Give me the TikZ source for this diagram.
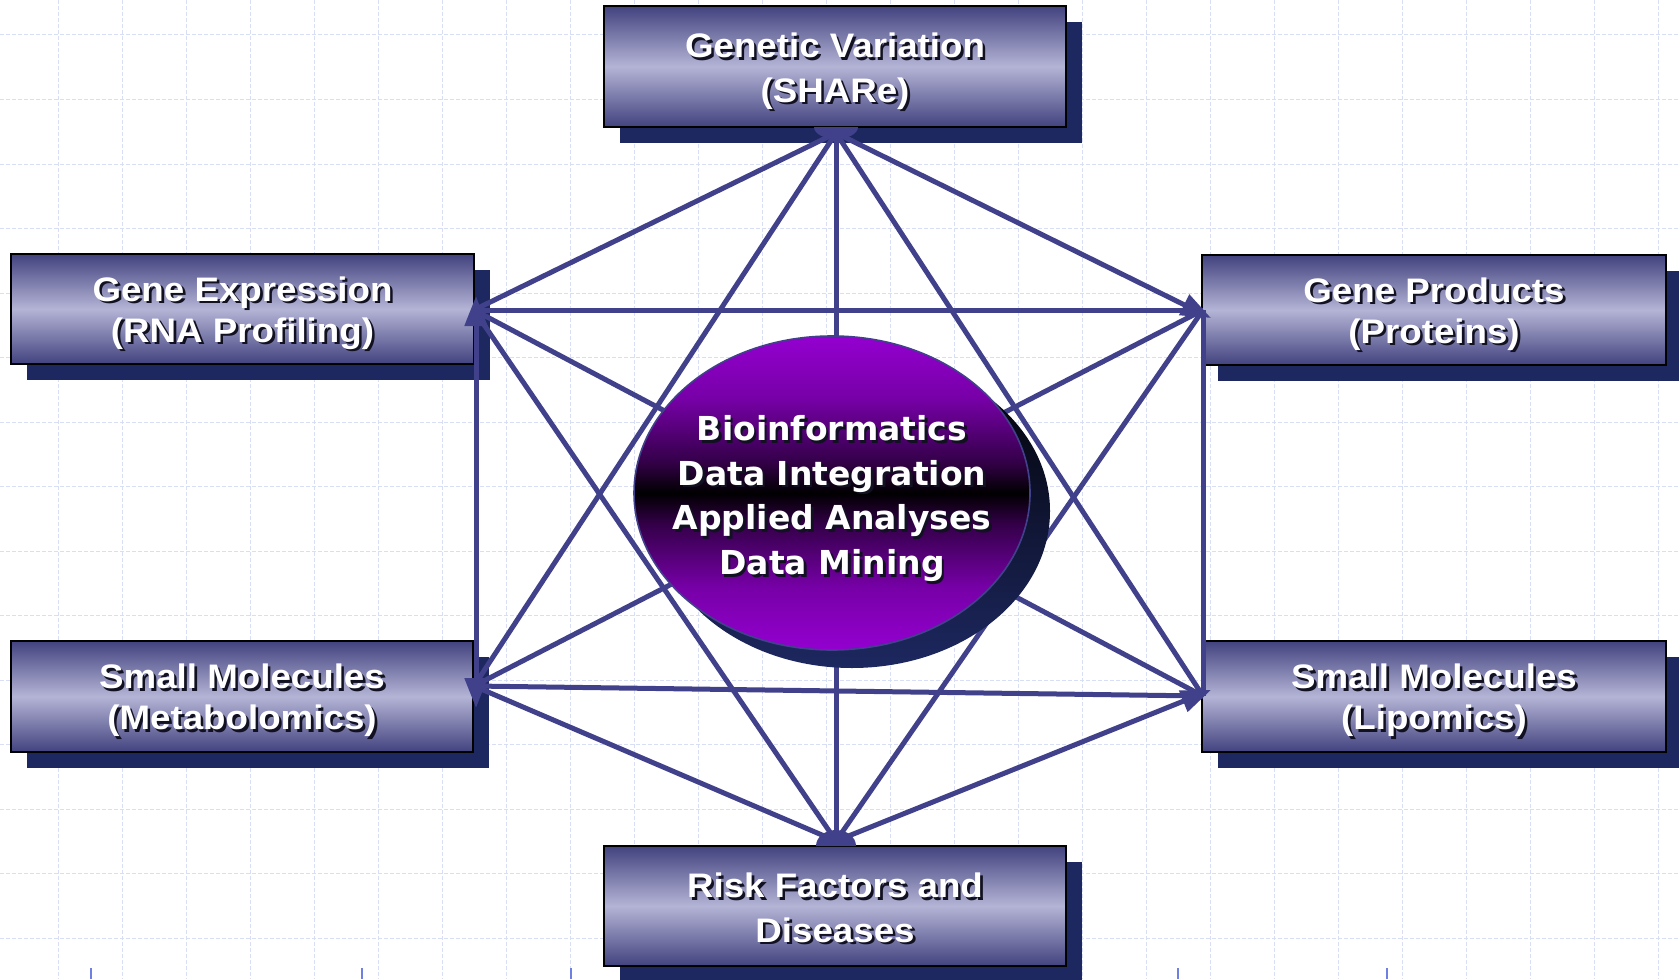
\documentclass[tikz,border=0pt]{standalone}
\usepackage{fontspec}
\setmainfont{Liberation Sans}
\newfontfamily\boxfont[FakeStretch=1.08]{Liberation Sans}
\newfontfamily\ellfont{DejaVu Sans}
\usetikzlibrary{arrows.meta,shapes.geometric}
\definecolor{linec}{HTML}{40418A}
\definecolor{shadowc}{HTML}{1D2860}
\definecolor{boxdark}{HTML}{42427F}
\definecolor{boxlight}{HTML}{B4B4D6}
\definecolor{purp}{HTML}{9400D0}
\definecolor{gridc}{HTML}{D8DEF4}
\definecolor{tickc}{HTML}{7080E0}
\definecolor{shtc}{HTML}{111122}
\pgfdeclareverticalshading{coreshade}{100bp}{color(0bp)=(purp); color(25bp)=(purp); color(35bp)=(purp!80!black); color(45bp)=(purp!35!black); color(50bp)=(black); color(55bp)=(purp!35!black); color(65bp)=(purp!80!black); color(75bp)=(purp); color(100bp)=(purp)}
\newcommand\sht[1]{\rlap{\kern1.3pt\raisebox{-1.3pt}{\textcolor{shtc}{#1}}}#1}
\begin{document}
\begin{tikzpicture}[x=0.5pt,y=-0.5pt,
  gridline/.style={draw=gridc,line width=0.5pt,dash pattern=on 2pt off 1pt},
  shadowbox/.style={fill=shadowc},
  infobox/.style={draw=black,line width=0.8pt,top color=boxdark,bottom color=boxdark,middle color=boxlight,inner sep=0pt},
  boxtext/.style={text=white,align=center,inner sep=0pt,font=\boxfont\bfseries\fontsize{17}{22.3}\selectfont},
  sidetext/.style={boxtext,font=\boxfont\bfseries\fontsize{17}{20.5}\selectfont},
  conn/.style={draw=linec,line width=2.5pt},
  fan/.style={fill=linec},
  coretext/.style={text=white,align=center,font=\ellfont\bfseries\fontsize{16.5}{22.3}\selectfont}]

\useasboundingbox (0,0) rectangle (1679,979);
\fill[white] (0,0) rectangle (1679,979);

% grid
\foreach \i in {-1,...,26} \draw[gridline] ({58.7+64*\i},0) -- ({58.7+64*\i},979);
\foreach \j in {0,...,15} \draw[gridline] (0,{938-64.5*\j}) -- (1679,{938-64.5*\j});
\foreach \x in {91,362,571,1178,1387} \draw[tickc,line width=0.6pt] (\x,968) -- (\x,979);

% box shadows
\fill[shadowbox] (620,22) rectangle (1082,143);
\fill[shadowbox] (27,270) rectangle (490,380);
\fill[shadowbox] (1218,271) rectangle (1682,381);
\fill[shadowbox] (27,657) rectangle (489,768);
\fill[shadowbox] (1218,657) rectangle (1682,768);
\fill[shadowbox] (620,862) rectangle (1082,982);

% boxes
\node[infobox,minimum width=231pt,minimum height=60.5pt] (gv) at (835,66.5) {};
\node[infobox,minimum width=231.5pt,minimum height=55pt] (ge) at (242.5,309) {};
\node[infobox,minimum width=232pt,minimum height=55pt] (gp) at (1434,310) {};
\node[infobox,minimum width=231pt,minimum height=55.5pt] (sm) at (242,696.5) {};
\node[infobox,minimum width=232pt,minimum height=55.5pt] (sl) at (1434,696.5) {};
\node[infobox,minimum width=231pt,minimum height=60pt] (rf) at (835,906) {};

\node[boxtext] (gvt) at ([yshift=-3pt]gv.center) {\sht{Genetic Variation}\\\sht{(SHARe)}};
\node[sidetext] (get) at ([yshift=-2.7pt]ge.center) {\sht{Gene Expression}\\\sht{(RNA Profiling)}};
\node[sidetext] (gpt) at ([yshift=-2.7pt]gp.center) {\sht{Gene Products}\\\sht{(Proteins)}};
\node[sidetext] (smt) at ([yshift=-2.7pt]sm.center) {\sht{Small Molecules}\\\sht{(Metabolomics)}};
\node[sidetext] (slt) at ([yshift=-2.7pt]sl.center) {\sht{Small Molecules}\\\sht{(Lipomics)}};
\node[boxtext] (rft) at ([yshift=-1.5pt]rf.center) {\sht{Risk Factors and}\\\sht{Diseases}};

% hubs
\coordinate (hT) at (836,133);
\coordinate (hB) at (836,841);
\coordinate (hLT) at (474,310);
\coordinate (hRT) at (1203,310);
\coordinate (hLB) at (474,686);
\coordinate (hRB) at (1203,696);
\coordinate (aLT) at (476,296);
\coordinate (aLB) at (476,708);
\coordinate (aRT) at (1211,318);
\coordinate (aRB) at (1211,690);

% connectors
\draw[conn] (hT) -- (hLT);
\draw[conn,-{Triangle[length=15pt,width=11pt]}] (hT) -- (aRT);
\draw[conn] (hT) -- (hLB);
\draw[conn] (hT) -- (hRB);
\draw[conn] (hT) -- (hB);
\draw[conn] (hLT) -- (hRT);
\draw[conn,{Triangle[length=15pt,width=11pt]}-{Triangle[length=15pt,width=11pt]}] (aLT) -- (aLB);
\draw[conn] (hLT) -- (hRB);
\draw[conn] (hLT) -- (hB);
\draw[conn] (hRT) -- (hLB);
\draw[conn] (hRT) -- (hRB);
\draw[conn] (hRT) -- (hB);
\draw[conn] (hLB) -- (hRB);
\draw[conn] (hLB) -- (hB);
\draw[conn,-{Triangle[length=15pt,width=11pt]}] (hB) -- (aRB);

% fans
\fill[fan] (814,127) arc[start angle=180,end angle=360,x radius=11pt,y radius=6pt] -- cycle;
\fill[fan] (816,846) arc[start angle=180,end angle=0,x radius=10pt,y radius=8pt] -- cycle;

% core ellipse
\shade[top color=black,bottom color=shadowc] (852,511) ellipse [x radius=99pt,y radius=78.5pt];
\shadedraw[shading=coreshade,draw=linec,line width=0.8pt]
  (832,493) ellipse [x radius=99pt,y radius=78.5pt];
\node[coretext] (core) at (832,500)
  {\sht{Bioinformatics}\\\sht{Data Integration}\\\sht{Applied Analyses}\\\sht{Data Mining}};
\end{tikzpicture}
\end{document}
